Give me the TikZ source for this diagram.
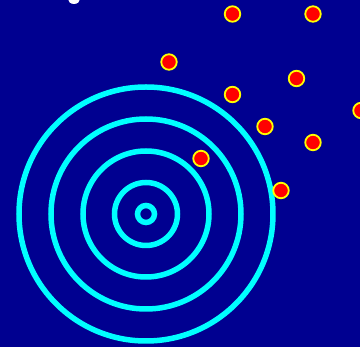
\documentclass[tikz,border=0pt]{standalone}
\usepackage{xcolor}
\usepackage{tikz}
\usetikzlibrary{positioning, calc}
\definecolor{deepblue}{HTML}{000090}
\definecolor{ringcyan}{HTML}{00FFFF}
\definecolor{dotred}{HTML}{FF0000}
\definecolor{dotyellow}{HTML}{FFFF00}

\tikzset{
  ring/.style={draw=ringcyan, line width=5.5pt},
  hitdot/.style={circle, fill=dotred, draw=dotyellow, line width=1.8pt, minimum size=15.5pt, inner sep=0pt}
}

\begin{document}
\begin{tikzpicture}[x=1pt, y=-1pt]
  % Pozadí
  \useasboundingbox (0,0) rectangle (360,347);
  \clip (0,0) rectangle (360,347);
  \fill[deepblue] (0,0) rectangle (360,347);

  % Zbytek nadpisu
  \fill[white] (74,-1) ellipse (6 and 5);

  % Terč
  \coordinate (stred) at (146,214);
  \foreach \r in {8.5,31.5,63,95,127}
    \draw[ring] (stred) circle (\r);

  % Zásahy
  \node[hitdot] (z1) at (232.5,14) {};
  \node[hitdot] (z2) at (313,14) {};
  \node[hitdot] (z3) at (169,62) {};
  \node[hitdot] (z4) at (296.5,78.5) {};
  \node[hitdot] (z5) at (232.5,94.5) {};
  \node[hitdot] (z6) at (361,110.5) {};
  \node[hitdot] (z7) at (265,126.5) {};
  \node[hitdot] (z8) at (313,142.5) {};
  \node[hitdot] (z9) at (201,158.5) {};
  \node[hitdot] (z10) at (281,190.5) {};
\end{tikzpicture}
\end{document}
